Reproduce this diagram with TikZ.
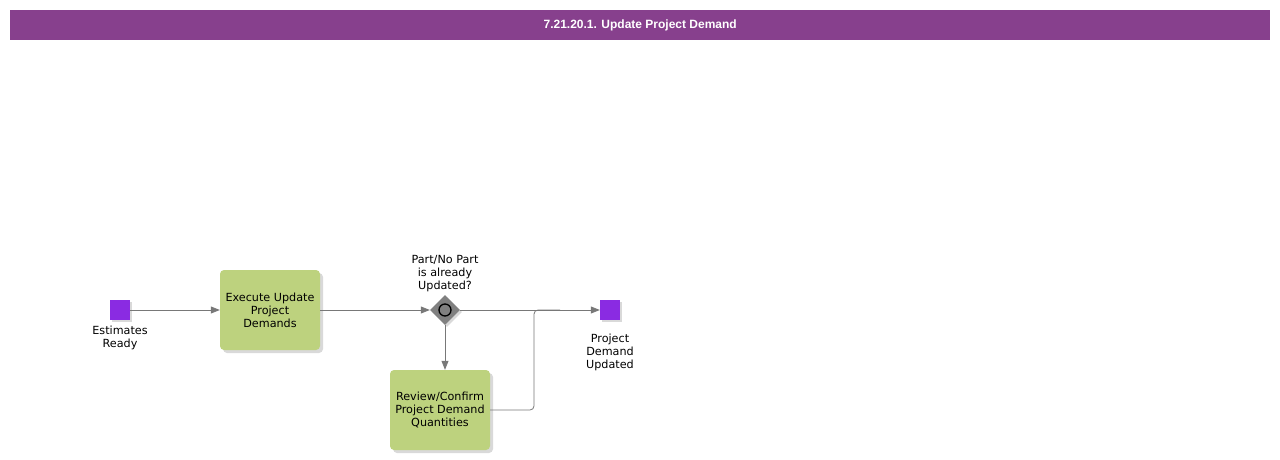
\documentclass[tikz,border=0pt]{standalone}
\usepackage{fontspec}
\setmainfont{DejaVu Sans}
\newfontfamily\titlefont{Liberation Sans}
\usetikzlibrary{arrows.meta,shapes.geometric,shadows}
\definecolor{hdr}{RGB}{135,64,141}
\definecolor{evt}{RGB}{138,43,226}
\definecolor{task}{RGB}{189,210,126}
\definecolor{conn}{RGB}{120,120,120}
\definecolor{gw}{RGB}{128,128,128}
\tikzset{
  evtbox/.style={draw=none,fill=evt,minimum size=20pt,inner sep=0pt,drop shadow={shadow xshift=2pt,shadow yshift=-2pt,opacity=0.3}},
  taskbox/.style={draw=none,fill=task,rounded corners=4pt,minimum width=100pt,minimum height=80pt,inner sep=0pt,align=center,font=\fontsize{11.2}{13}\selectfont,drop shadow={shadow xshift=3pt,shadow yshift=-3pt,opacity=0.3}},
  lbl/.style={align=center,font=\fontsize{11.2}{13}\selectfont,inner sep=0pt},
  gwbox/.style={diamond,fill=gw,draw=none,minimum width=30pt,minimum height=30pt,inner sep=0pt,drop shadow={shadow xshift=2pt,shadow yshift=-2pt,opacity=0.3}},
  flow/.style={draw=conn,line width=0.8pt,-{Triangle[length=9pt,width=7pt]}},
}
\begin{document}
\begin{tikzpicture}[x=1pt,y=-1pt]
\useasboundingbox (0,0) rectangle (1280,460);
\node[fill=hdr,minimum width=1260pt,minimum height=30pt,inner sep=0pt,anchor=north west,text=white,font=\titlefont\bfseries\fontsize{12}{14}\selectfont] (title) at (10,10) {7.21.20.1. Update Project Demand};
\node[evtbox] (start) at (120,310) {};
\node[lbl] (startlbl) at (120,338) {Estimates\\Ready};
\node[taskbox] (t1) at (270,310) {Execute Update\\Project\\Demands};
\node[gwbox] (gw) at (445,310) {};
\draw[black,fill=gw,line width=1.3pt] (gw.center) circle (6pt);
\node[lbl] (gwlbl) at (445,274) {Part/No Part\\is already\\Updated?};
\node[taskbox] (t2) at (440,410) {Review/Confirm\\Project Demand\\Quantities};
\node[evtbox] (end) at (610,310) {};
\node[lbl] (endlbl) at (610,352) {Project\\Demand\\Updated};
\coordinate (m) at (534,310);
\draw[flow] (start) -- (t1);
\draw[flow] (t1) -- (gw);
\draw[flow] (gw) -- (end);
\draw[flow] (gw.south) -- (gw.south |- t2.north);
\draw[draw=conn,line width=0.8pt,rounded corners=4pt] (t2.east) -- (534,410) -- (m) -- (560,310);
\end{tikzpicture}
\end{document}
